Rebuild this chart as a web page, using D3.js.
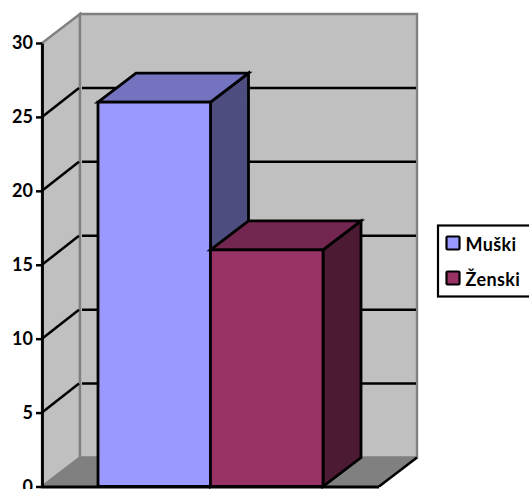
<!DOCTYPE html>
<html>
<head>
<meta charset="utf-8">
<script src="https://cdn.jsdelivr.net/npm/d3@7"></script>
<style>
html,body{margin:0;padding:0;background:#fff;overflow:hidden}
svg{display:block}
text{font-family:Lato,"Open Sans",sans-serif;font-weight:700;fill:#000}
</style>
</head>
<body>
<svg id="chart" width="529" height="489"></svg>
<script>
const seriesNames = ["Muški", "Ženski"];
const seriesValues = [26, 16];
const yTicks = [0, 5, 10, 15, 20, 25, 30];
const frontColors = ["#9999ff", "#993366"];
const topColors = ["#7373bf", "#732650"];
const sideColors = ["#4d4d80", "#4d1a33"];

const svg = d3.select("#chart");
const depthX = 38, depthY = -29;
const y = d3.scaleLinear().domain([0, 30]).range([486.5, 43]);
const x = d3.scaleBand().domain(seriesNames).range([98, 323]);
const floorRight = 379;
const y0 = y(0), yTop = y(30), xLeft = 42;
const line = d3.line();
const poly = pts => line(pts) + "Z";

// walls and floor
svg.append("path").attr("d", poly([[xLeft, y0], [xLeft, yTop], [xLeft + depthX, yTop + depthY], [xLeft + depthX, y0 + depthY]]))
  .attr("fill", "#c0c0c0").attr("stroke", "#808080").attr("stroke-width", 2.4);
svg.append("path").attr("d", poly([[xLeft + depthX, y0 + depthY], [xLeft + depthX, yTop + depthY], [floorRight + depthX, yTop + depthY], [floorRight + depthX, y0 + depthY]]))
  .attr("fill", "#c0c0c0").attr("stroke", "#808080").attr("stroke-width", 2.4);
svg.append("path").attr("d", poly([[xLeft, y0], [xLeft + depthX, y0 + depthY], [floorRight + depthX, y0 + depthY], [floorRight, y0]]))
  .attr("fill", "#808080").attr("stroke", "#808080").attr("stroke-width", 1);

// gridlines
yTicks.filter(v => v > 0 && v < 30).forEach(v => {
  svg.append("path").attr("fill", "none").attr("stroke", "#000").attr("stroke-width", 2.5)
    .attr("d", line([[xLeft, y(v)], [xLeft + depthX - 1, y(v) + depthY]]));
  svg.append("path").attr("fill", "none").attr("stroke", "#000").attr("stroke-width", 2.5)
    .attr("d", line([[xLeft + depthX + 2, y(v) + depthY], [floorRight + depthX - 1, y(v) + depthY]]));
});

// front floor edge with end diagonal
svg.append("path").attr("fill", "none").attr("stroke", "#000").attr("stroke-width", 2.5)
  .attr("d", line([[floorRight, y0], [floorRight + depthX, y0 + depthY]]));

// bars
seriesNames.forEach((name, i) => {
  const x0 = x(name), x1 = x0 + x.bandwidth(), t = y(seriesValues[i]);
  const g = svg.append("g").attr("stroke", "#000").attr("stroke-width", 2.8).attr("stroke-linejoin", "miter");
  g.append("path").attr("fill", sideColors[i]).attr("d", poly([[x1, y0], [x1, t], [x1 + depthX, t + depthY], [x1 + depthX, y0 + depthY]]));
  g.append("path").attr("fill", topColors[i]).attr("d", poly([[x0, t], [x0 + depthX, t + depthY], [x1 + depthX, t + depthY], [x1, t]]));
  g.append("path").attr("fill", frontColors[i]).attr("d", poly([[x0, y0], [x0, t], [x1, t], [x1, y0]]));
});

// axes
const axis = svg.append("g").attr("transform", `translate(${xLeft},0)`)
  .call(d3.axisLeft(y).tickValues(yTicks).tickSize(6).tickPadding(3).tickSizeOuter(0));
axis.select(".domain").attr("stroke", "#000").attr("stroke-width", 2.8);
axis.selectAll(".tick line").attr("stroke", "#000").attr("stroke-width", 2.5);
axis.selectAll(".tick text").style("font-size", "18px").style("font-family", "Lato,sans-serif").style("font-weight", 700).attr("fill", "#000");
svg.append("path").attr("fill", "none").attr("stroke", "#000").attr("stroke-width", 2.8)
  .attr("d", line([[xLeft, y0 + 0.5], [floorRight, y0 + 0.5]]));

// legend
svg.append("rect").attr("x", 438).attr("y", 225.5).attr("width", 100).attr("height", 71)
  .attr("fill", "#fff").attr("stroke", "#000").attr("stroke-width", 2.2);
seriesNames.forEach((name, i) => {
  const ly = 243.5 + i * 35;
  svg.append("rect").attr("x", 446.5).attr("y", ly - 7).attr("width", 13).attr("height", 13).attr("rx", 1)
    .attr("fill", frontColors[i]).attr("stroke", "#000").attr("stroke-width", 2.2);
  svg.append("text").attr("x", 465.5).attr("y", ly + 7).style("font-size", "18px").style("letter-spacing", "0.4px").text(name);
});
</script>
</body>
</html>
